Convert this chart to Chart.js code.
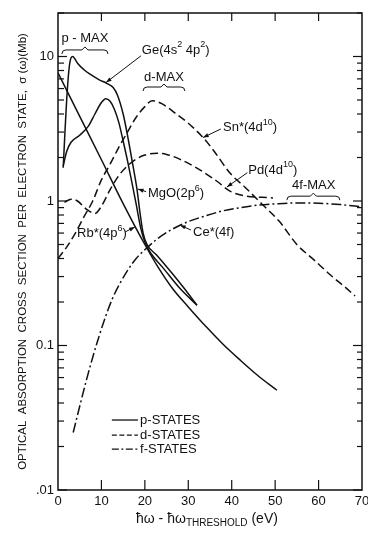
<!DOCTYPE html>
<html><head><meta charset="utf-8">
<script src="https://cdn.jsdelivr.net/npm/chart.js@4/dist/chart.umd.min.js"></script>
<style>html,body{margin:0;padding:0;background:#fff;}canvas{display:block;}</style>
</head><body>
<canvas id="c" width="368" height="533"></canvas>
<script>
// ---- data ----
const xTicks = [0, 10, 20, 30, 40, 50, 60, 70];
const yMajor = [0.01, 0.1, 1, 10];
const yMajorLabels = ['.01', '0.1', '1', '10'];

// p-states (solid)
const geEv  = [1.2, 1.6, 2.0, 2.5, 3.0, 3.4, 3.9, 4.6, 6.0, 7.2, 9.5, 11.3, 12.7, 13.7, 15.0, 16.1, 17.2, 18.2, 18.9, 19.6, 20.5, 22.8, 26.5, 29.0, 32.0];
const geVal = [1.7, 3.0, 5.0, 8.0, 9.8, 10.0, 9.6, 8.9, 8.1, 7.6, 6.9, 6.5, 6.1, 5.4, 4.0, 2.75, 1.8, 1.2, 0.82, 0.6, 0.5, 0.42, 0.31, 0.25, 0.19];

const mgoEv  = [1.2, 2.0, 3.0, 5.0, 7.0, 8.5, 10.0, 11.0, 12.0, 13.0, 14.0, 15.0, 16.0, 17.0, 18.0, 19.0, 20.0, 21.5, 24.0, 28.0, 32.0];
const mgoVal = [1.75, 2.2, 2.55, 2.85, 3.3, 4.0, 4.8, 5.1, 4.9, 4.3, 3.5, 2.6, 1.9, 1.35, 0.95, 0.66, 0.52, 0.43, 0.35, 0.25, 0.19];

const rbEv  = [0, 5, 10, 15, 20, 23, 26.5, 30, 34.3, 38, 42, 46, 50.4];
const rbVal = [7.7, 3.85, 1.93, 0.96, 0.5, 0.35, 0.245, 0.185, 0.133, 0.102, 0.079, 0.062, 0.049];

// d-states (dashed)
const snEv  = [0, 2, 4, 6, 8, 10, 12, 14, 16, 18, 20, 21.7, 24, 27, 30, 33.4, 36, 39.6, 43, 47, 51, 55, 59, 62.6, 66, 68.4];
const snVal = [0.40, 0.48, 0.6, 0.78, 1.0, 1.4, 1.8, 2.35, 3.0, 3.8, 4.5, 4.95, 4.7, 4.05, 3.45, 2.75, 2.2, 1.56, 1.25, 0.95, 0.72, 0.5, 0.39, 0.31, 0.255, 0.22];

const pdEv  = [1.5, 3.0, 4.5, 6.5, 8.5, 10, 12, 14, 16, 18, 20, 22.8, 25, 28, 32, 36.6, 39.6, 43.5, 47, 49.5];
const pdVal = [0.98, 1.03, 1.0, 0.88, 0.82, 0.92, 1.2, 1.5, 1.75, 1.95, 2.08, 2.14, 2.1, 1.95, 1.69, 1.37, 1.17, 1.08, 1.06, 1.05];

// f-states (dash-dot)
const ceEv  = [3.5, 5, 6.5, 8, 9.5, 11, 12.5, 14, 16, 18, 20, 23, 26, 30, 34, 38, 42, 46, 50, 55, 60, 65, 70];
const ceVal = [0.025, 0.038, 0.057, 0.083, 0.117, 0.16, 0.21, 0.26, 0.33, 0.40, 0.46, 0.55, 0.63, 0.72, 0.79, 0.855, 0.9, 0.935, 0.955, 0.97, 0.965, 0.945, 0.91];

const legendNames = ['p-STATES', 'd-STATES', 'f-STATES'];

// ---- styling ----
const FONT = "'Liberation Sans', Arial, sans-serif";
const P_DASH = [], D_DASH = [8, 4], F_DASH = [10, 3, 2, 3];
function pts(xs, ys) { return xs.map((x, i) => ({x: x, y: ys[i]})); }
function ds(label, xs, ys, dash) {
  return { label: label, data: pts(xs, ys), borderColor: '#111', borderWidth: 1.5,
           borderDash: dash, pointRadius: 0, fill: false, tension: 0.4,
           cubicInterpolationMode: 'monotone' };
}

// annotations (positions in data coordinates)
const notes = [
  {segs: [['p - MAX']], x: 6.2, y: 13.4, align: 'center'},
  {segs: [['Ge(4s'], ['2', 1], [' 4p'], ['2', 1], [')']], x: 19.3, y: 11.1, align: 'left'},
  {segs: [['d-MAX']], x: 24.4, y: 7.2, align: 'center'},
  {segs: [['Sn*(4d'], ['10', 1], [')']], x: 38.0, y: 3.25, align: 'left'},
  {segs: [['Pd(4d'], ['10', 1], [')']], x: 43.8, y: 1.64, align: 'left'},
  {segs: [['4f-MAX']], x: 58.9, y: 1.29, align: 'center'},
  {segs: [['MgO(2p'], ['6', 1], [')']], x: 20.7, y: 1.136, align: 'left'},
  {segs: [['Rb*(4p'], ['6', 1], [')']], x: 4.4, y: 0.60, align: 'left'},
  {segs: [['Ce*(4f)']], x: 31.1, y: 0.61, align: 'left'}
];
const arrows = [
  {from: [19.1, 10.1], to: [11.05, 6.6]},
  {from: [37.5, 3.15], to: [33.4, 2.75]},
  {from: [43.6, 1.57], to: [38.9, 1.25]},
  {from: [20.3, 1.16], to: [18.4, 1.21]},
  {from: [15.4, 0.61], to: [17.7, 0.66]},
  {from: [30.6, 0.63], to: [28.1, 0.68]}
];
const brackets = [
  {x1: 0.9, x2: 11.5, y: 11.1},
  {x1: 19.6, x2: 29.2, y: 6.15},
  {x1: 52.7, x2: 64.9, y: 1.08}
];
const legendRows = [0.0305, 0.024, 0.0192];

function drawSegs(ctx, segs, px, py, align, size) {
  const supSize = Math.round(size * 0.7);
  let w = 0;
  segs.forEach(s => { ctx.font = (s[1] ? supSize : size) + 'px ' + FONT; w += ctx.measureText(s[0]).width; });
  let cx = align === 'center' ? px - w / 2 : px;
  ctx.textBaseline = 'middle'; ctx.textAlign = 'left';
  segs.forEach(s => {
    const sup = s[1] === 1, sub = s[1] === 2;
    ctx.font = ((sup || sub) ? supSize : size) + 'px ' + FONT;
    ctx.fillText(s[0], cx, py + (sup ? -size * 0.38 : sub ? size * 0.3 : 0));
    cx += ctx.measureText(s[0]).width;
  });
}

const deco = {
  id: 'deco',
  afterDraw(chart) {
    const {ctx, chartArea: a, scales} = chart;
    const X = v => scales.x.getPixelForValue(v), Y = v => scales.y.getPixelForValue(v);
    const line = (x1, y1, x2, y2) => { ctx.beginPath(); ctx.moveTo(x1, y1); ctx.lineTo(x2, y2); ctx.stroke(); };
    ctx.save();
    ctx.strokeStyle = '#111'; ctx.fillStyle = '#111';
    ctx.lineWidth = 1.5;
    ctx.strokeRect(a.left, a.top, a.right - a.left, a.bottom - a.top);
    ctx.lineWidth = 1.2;
    xTicks.slice(1, -1).forEach(t => { const px = X(t); line(px, a.top, px, a.top + 8); line(px, a.bottom, px, a.bottom - 10); });
    for (let d = -2; d <= 1; d++) for (let m = 1; m <= 9; m++) {
      const v = m * Math.pow(10, d); if (v > 20) break;
      const py = Y(v);
      if (m === 1) { line(a.right, py, a.right - 9, py); line(a.left, py, a.left + 9, py); }
      else { line(a.right, py, a.right - 5, py); line(a.left, py, a.left + 6, py); }
    }
    // brackets
    ctx.lineWidth = 1;
    brackets.forEach(b => {
      const x1 = X(b.x1), x2 = X(b.x2), py = Y(b.y), xm = (x1 + x2) / 2;
      ctx.beginPath();
      ctx.moveTo(x1, py + 4); ctx.quadraticCurveTo(x1, py, x1 + 4, py);
      ctx.lineTo(xm - 3, py); ctx.lineTo(xm, py - 3); ctx.lineTo(xm + 3, py);
      ctx.lineTo(x2 - 4, py); ctx.quadraticCurveTo(x2, py, x2, py + 4);
      ctx.stroke();
    });
    // arrows
    arrows.forEach(r => {
      const x1 = X(r.from[0]), y1 = Y(r.from[1]), x2 = X(r.to[0]), y2 = Y(r.to[1]);
      line(x1, y1, x2, y2);
      const ang = Math.atan2(y2 - y1, x2 - x1), L = 6;
      ctx.beginPath(); ctx.moveTo(x2, y2);
      ctx.lineTo(x2 - L * Math.cos(ang - 0.35), y2 - L * Math.sin(ang - 0.35));
      ctx.lineTo(x2 - L * Math.cos(ang + 0.35), y2 - L * Math.sin(ang + 0.35));
      ctx.closePath(); ctx.fill();
    });
    // texts
    notes.forEach(n => drawSegs(ctx, n.segs, X(n.x), Y(n.y), n.align, 13));
    // legend
    const dashes = [P_DASH, [5, 2.5], [7, 2.5, 2, 2.5]];
    ctx.lineWidth = 1.3;
    legendRows.forEach((v, i) => {
      ctx.setLineDash(dashes[i]); line(X(12.4), Y(v), X(18.4), Y(v)); ctx.setLineDash([]);
      drawSegs(ctx, [[legendNames[i]]], X(18.9), Y(v), 'left', 13);
    });
    // x-axis title
    drawSegs(ctx, [['ħω - ħω'], ['THRESHOLD', 2], [' (eV)']], X(34.3), a.bottom + 29, 'center', 14);
    ctx.restore();
  }
};

new Chart(document.getElementById('c'), {
  type: 'line',
  data: { datasets: [
    ds('Ge(4s²4p²)', geEv, geVal, P_DASH),
    ds('MgO(2p⁶)', mgoEv, mgoVal, P_DASH),
    ds('Rb*(4p⁶)', rbEv, rbVal, P_DASH),
    ds('Sn*(4d¹⁰)', snEv, snVal, D_DASH),
    ds('Pd(4d¹⁰)', pdEv, pdVal, D_DASH),
    ds('Ce*(4f)', ceEv, ceVal, F_DASH)
  ]},
  options: {
    responsive: false, devicePixelRatio: 1, animation: false,
    layout: { padding: { top: 13, right: 6, left: 0, bottom: 0 } },
    plugins: { legend: { display: false }, tooltip: { enabled: false } },
    scales: {
      x: { type: 'linear', min: 0, max: 70,
           grid: { display: false, drawTicks: false }, border: { display: false },
           ticks: { stepSize: 10, color: '#111', padding: 4, font: { family: FONT, size: 13 }, maxRotation: 0 },
           afterFit(s) { s.height = 43; s.paddingLeft = 0; s.paddingRight = 0; } },
      y: { type: 'logarithmic', min: 0.01, max: 20,
           grid: { display: false, drawTicks: false }, border: { display: false },
           ticks: { color: '#111', padding: 4, font: { family: FONT, size: 13 }, autoSkip: false,
                    callback(v) { const i = yMajor.findIndex(m => Math.abs(Math.log10(v) - Math.log10(m)) < 1e-6); return i >= 0 ? yMajorLabels[i] : ''; } },
           title: { display: true, text: 'OPTICAL  ABSORPTION  CROSS  SECTION  PER  ELECTRON  STATE,  σ (ω)(Mb)',
                    color: '#111', font: { family: FONT, size: 11.5 }, padding: { top: 16, bottom: 0 } },
           afterFit(s) { s.width = 58; s.paddingTop = 0; s.paddingBottom = 0; } }
    }
  },
  plugins: [deco]
});
</script>
</body></html>
